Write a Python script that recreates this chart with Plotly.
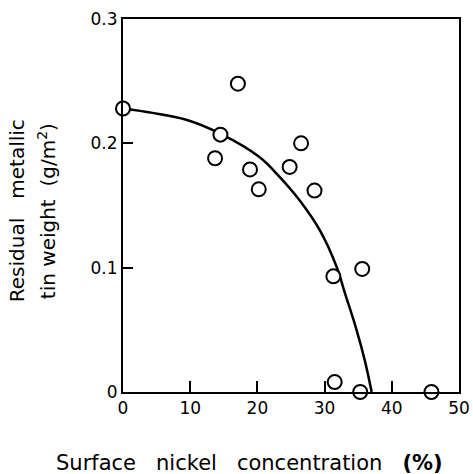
import plotly.graph_objects as go

# Measured points: surface Ni concentration (%) vs residual metallic tin (g/m2)
ni_conc = [0.0, 14.5, 13.7, 17.1, 18.9, 20.2, 24.8, 26.5, 28.5, 31.3, 35.6, 31.5, 35.3, 45.9]
tin_weight = [0.228, 0.207, 0.188, 0.248, 0.179, 0.163, 0.181, 0.200, 0.162, 0.093, 0.099, 0.008, 0.0, 0.0]

# Fitted curve
curve_x = [0.0, 4.4, 9.4, 14.4, 20.3, 23.3, 26.3, 29.3, 31.8, 33.0, 34.75, 36.0, 37.0]
curve_y = [0.228, 0.2245, 0.219, 0.208, 0.189, 0.173, 0.154, 0.130, 0.1005, 0.080, 0.050, 0.025, 0.0]

x_ticks = [0, 10, 20, 30, 40, 50]
x_tick_labels = ["0", "10", "20", "30", "40", "50"]
y_ticks = [0, 0.1, 0.2, 0.3]
y_tick_labels = ["0", "0.1", "0.2", "0.3"]

FONT = "DejaVu Sans"
NB = "\u00a0"

fig = go.Figure()
fig.add_trace(go.Scatter(
    x=curve_x, y=curve_y, mode="lines",
    line=dict(color="black", width=2.5, shape="spline", smoothing=1.0),
    hoverinfo="skip", showlegend=False,
))
fig.add_trace(go.Scatter(
    x=ni_conc, y=tin_weight, mode="markers",
    marker=dict(size=14, color="white", line=dict(color="black", width=2)),
    cliponaxis=False, showlegend=False,
))

axis_common = dict(
    showgrid=False, zeroline=False, showline=True, linecolor="black", linewidth=2,
    mirror=True, ticks="inside", tickcolor="black", tickwidth=2,
    tickfont=dict(family=FONT, size=17, color="black"),
)
fig.update_xaxes(range=[0, 50], tickvals=x_ticks, ticktext=x_tick_labels,
                 ticklen=11, **axis_common)
fig.update_yaxes(range=[0, 0.3], tickvals=y_ticks, ticktext=y_tick_labels,
                 ticklen=10, **axis_common)

SP = NB * 3
fig.add_annotation(
    text=f"Surface{SP}nickel{SP}concentration{SP}<b>(%)</b>",
    xref="paper", yref="paper", x=0.375, y=-0.19, xanchor="center", yanchor="middle",
    showarrow=False, font=dict(family=FONT, size=21, color="black"),
)
fig.add_annotation(
    text=f"Residual{NB*3}metallic",
    xref="paper", yref="paper", x=-0.315, y=0.485, xanchor="center", yanchor="middle",
    textangle=-90, showarrow=False, font=dict(family=FONT, size=20, color="black"),
)
fig.add_annotation(
    text=f"tin{NB}weight{NB*2}(g/m<sup>2</sup>)",
    xref="paper", yref="paper", x=-0.226, y=0.485, xanchor="center", yanchor="middle",
    textangle=-90, showarrow=False, font=dict(family=FONT, size=20, color="black"),
)

fig.update_layout(
    width=473, height=474,
    margin=dict(l=123, r=14, t=19, b=82, autoexpand=False),
    paper_bgcolor="white", plot_bgcolor="white",
    showlegend=False,
)

fig.write_html("out.html", config={"displayModeBar": False},
               post_script="document.body.style.margin='0px';")
